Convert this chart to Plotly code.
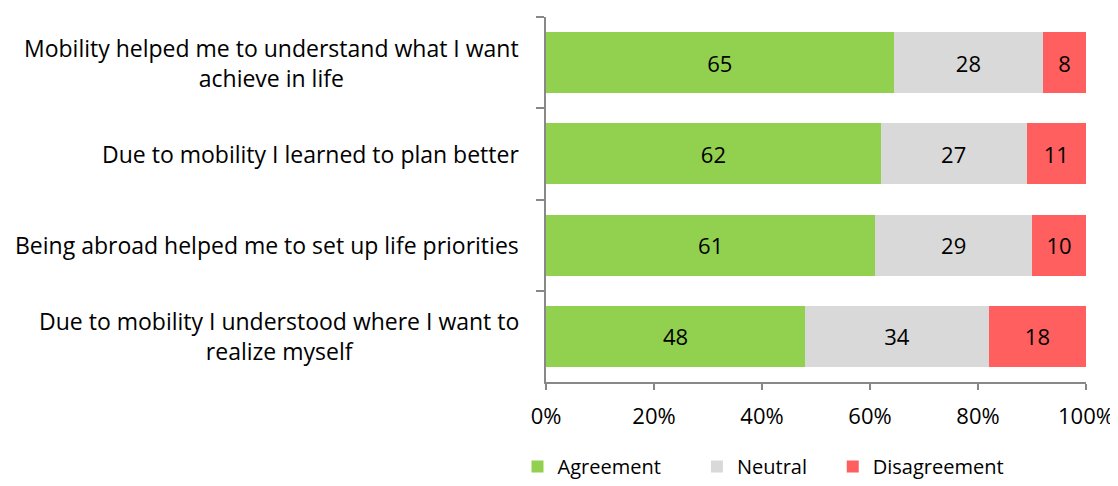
import plotly.graph_objects as go

statements = [
    "Mobility helped me to understand what I want<br>achieve in life",
    "Due to mobility I learned to plan better",
    "Being abroad helped me to set up life priorities",
    "Due to mobility I understood where I want to<br>realize myself",
]
agreement = [65, 62, 61, 48]
neutral = [28, 27, 29, 34]
disagreement = [8, 11, 10, 18]
x_ticks = [0, 20, 40, 60, 80, 100]

FONT = "Open Sans"
nb = "\u00a0"
series = [
    ("Agreement" + nb * 6, agreement, "#92D050"),
    ("Neutral" + nb * 4, neutral, "#D9D9D9"),
    ("Disagreement", disagreement, "#FF5F5F"),
]

fig = go.Figure()
for name, vals, color in series:
    fig.add_trace(go.Bar(
        y=statements,
        x=vals,
        name=name,
        orientation="h",
        marker=dict(color=color, line=dict(width=0)),
        text=[str(v) for v in vals],
        textposition="inside",
        insidetextanchor="middle",
        textfont=dict(family=FONT, size=22, color="black"),
    ))

# category labels, centred like the original
for s in statements:
    fig.add_annotation(
        x=0, xref="paper", xanchor="right", xshift=-25,
        y=s, yref="y",
        text=s, align="center", showarrow=False,
        font=dict(family=FONT, size=23, color="black"),
    )

# page body adds an 8px margin, so the figure is kept a bit smaller than the window
fig.update_layout(
    width=1110, height=478,
    barmode="stack", barnorm="percent", bargap=0.33,
    plot_bgcolor="white", paper_bgcolor="white",
    margin=dict(l=538, r=32, t=9, b=104),
    font=dict(family=FONT, size=22, color="black"),
    legend=dict(
        orientation="h", xref="container", yref="container",
        x=0.459, xanchor="left", y=0, yanchor="bottom",
        font=dict(family=FONT, size=20, color="black"),
        traceorder="normal",
    ),
    xaxis=dict(
        range=[0, 100], tickvals=x_ticks,
        ticktext=[f"{t}%" for t in x_ticks],
        showgrid=False, zeroline=False, automargin=False,
        showline=True, linecolor="#888888", linewidth=1.5,
        ticks="outside", ticklen=6, tickcolor="#888888", tickwidth=1.5,
        ticklabelstandoff=8, tickfont=dict(size=22),
    ),
    yaxis=dict(
        autorange="reversed", showgrid=False, showticklabels=False,
        automargin=False,
        showline=True, linecolor="#888888", linewidth=1.5,
        ticks="outside", ticklen=8, tickcolor="#888888", tickwidth=1.5,
        tickson="boundaries",
    ),
)

fig.write_html("out.html")
